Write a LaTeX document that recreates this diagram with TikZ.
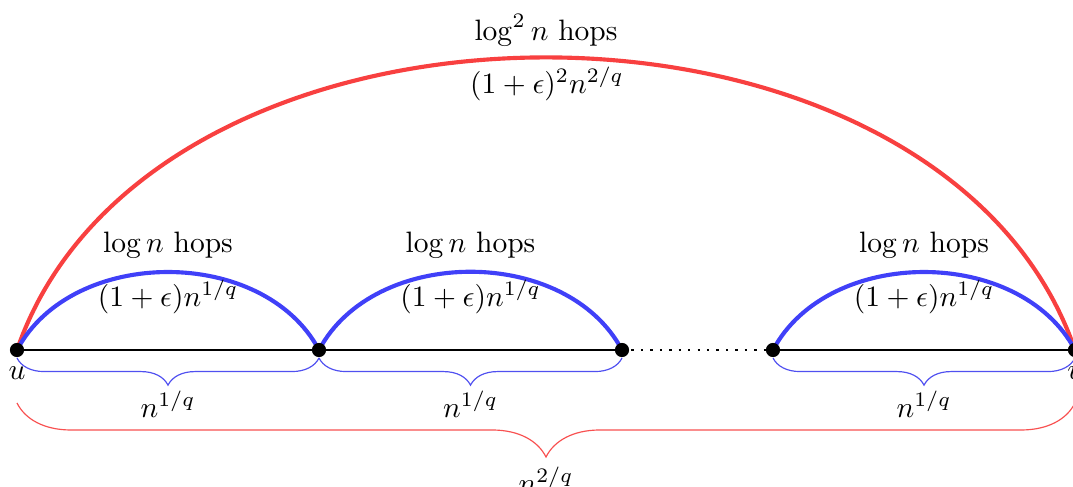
\documentclass[tikz,border=0pt]{standalone}
\usetikzlibrary{decorations.pathreplacing}
\definecolor{arcred}{RGB}{248,64,64}
\definecolor{arcblue}{RGB}{64,64,248}
\definecolor{bracered}{RGB}{248,80,80}
\definecolor{braceblue}{RGB}{80,80,240}
\begin{document}
\begin{tikzpicture}[x=0.339pt,y=0.339pt,
  dot/.style={circle,fill=black,inner sep=0pt,minimum size=4.8pt},
  mainline/.style={line width=0.7pt},
  gapline/.style={line width=0.8pt,dash pattern=on 0.8pt off 2.4pt},
  hopblue/.style={arcblue,line width=1.4pt},
  hopred/.style={arcred,line width=1.4pt},
  bbrace/.style={braceblue,line width=0.4pt,decorate,decoration={brace,mirror,amplitude=9.2pt}},
  rbrace/.style={bracered,line width=0.4pt,decorate,decoration={brace,mirror,amplitude=18.3pt}},
  lbl/.style={inner sep=1pt}
]
\useasboundingbox (0,0) rectangle (1073,486);
\coordinate (u) at (17,136);
\coordinate (a) at (319,136);
\coordinate (b) at (622,136);
\coordinate (c) at (773,136);
\coordinate (v) at (1075,136);
% brace anchor points
\coordinate (u1) at (17,128);
\coordinate (a1) at (319,128);
\coordinate (b1) at (622,128);
\coordinate (c1) at (773,128);
\coordinate (v1) at (1075,128);
\coordinate (u2) at (17,83);
\coordinate (v2) at (1075,83);
% base line
\draw[mainline] (u) -- (a) -- (b);
\draw[gapline] (b) -- (c);
\draw[mainline] (c) -- (v);
% hop arcs
\draw[hopred] (u) to[bend left=71] (v);
\draw[hopblue] (u) to[bend left=62] (a);
\draw[hopblue] (a) to[bend left=62] (b);
\draw[hopblue] (c) to[bend left=62] (v);
% braces
\draw[bbrace] (u1) -- (a1);
\draw[bbrace] (a1) -- (b1);
\draw[bbrace] (c1) -- (v1);
\draw[rbrace] (u2) -- (v2);
% dots
\foreach \p in {u,a,b,c,v} \node[dot] (d\p) at (\p) {};
% labels
\node[lbl] (lu) at (17,113) {$u$};
\node[lbl] (lv) at (1075,113) {$v$};
\node[lbl] (h1) at (168,241) {$\log n$ hops};
\node[lbl] (w1) at (168,189) {$(1+\epsilon)n^{1/q}$};
\node[lbl] (h2) at (470.5,241) {$\log n$ hops};
\node[lbl] (w2) at (470.5,189) {$(1+\epsilon)n^{1/q}$};
\node[lbl] (h3) at (924,241) {$\log n$ hops};
\node[lbl] (w3) at (924,189) {$(1+\epsilon)n^{1/q}$};
\node[lbl] (hr) at (546,456) {$\log^2 n$ hops};
\node[lbl] (wr) at (547,402) {$(1+\epsilon)^2n^{2/q}$};
\node[lbl] (s1) at (168,82) {$n^{1/q}$};
\node[lbl] (s2) at (470.5,82) {$n^{1/q}$};
\node[lbl] (s3) at (924,82) {$n^{1/q}$};
\node[lbl] (sr) at (546,6) {$n^{2/q}$};
\end{tikzpicture}
\end{document}
